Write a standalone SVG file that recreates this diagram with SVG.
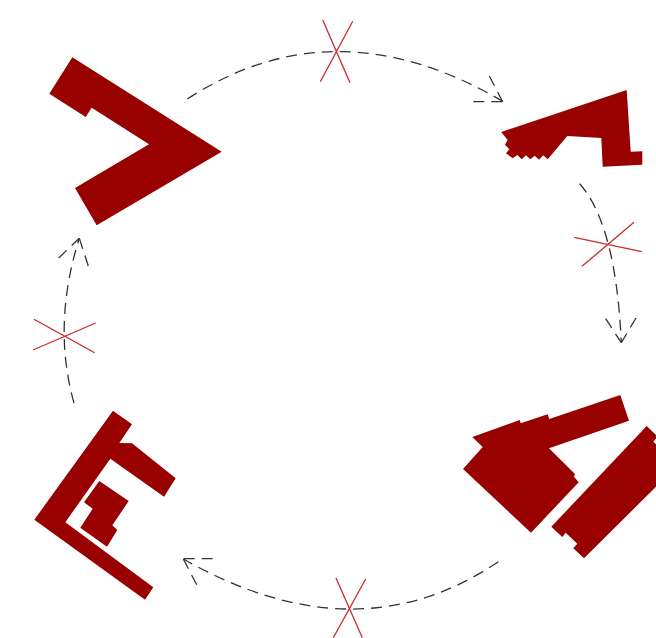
<svg xmlns="http://www.w3.org/2000/svg" width="656" height="638" viewBox="0 0 656 638">
<style>
.b{fill:#990000;stroke:none}
.c{fill:none;stroke:#333;stroke-width:1.3;stroke-dasharray:11 7}
.x{fill:none;stroke:#cc2a2a;stroke-width:1.3}
</style>
<rect width="656" height="638" fill="#fff"/>
<g id="connectors">
<path class="c" d="M187.3 99Q335 3 502.7 101.3"/>
<path class="c" d="M473.3 101.7H502.7M489.3 76L502.7 101.7"/>
<path class="c" d="M579.7 183.7Q616 225 621.3 342.7"/>
<path class="c" d="M605.7 318.7L621.3 342.7M636 318L621.3 342.7"/>
<path class="c" d="M498.3 561.7Q357 657.7 183.3 559"/>
<path class="c" d="M212.7 558.7H183.3M196.7 584.7L183.3 559"/>
<path class="c" d="M74 403Q52 325 79.3 238.3"/>
<path class="c" d="M58.7 258L79.3 238.3M88.3 266L79.3 238.3"/>
</g>
<g id="cross-top"><path class="x" d="M322.7 20L350 82.7M352.7 21.3L320.3 81.7"/></g>
<g id="cross-right"><path class="x" d="M574.3 237.3L641.7 251.7M634 222.3L582 266.3"/></g>
<g id="cross-bottom"><path class="x" d="M336 578L362.3 637.7M365.7 579L333.3 637.7"/></g>
<g id="cross-left"><path class="x" d="M34 319.3L94.7 352.7M95.7 323L33 350"/></g>
<g id="building-top-left"><path class="b" d="M72.3 57.3L221.7 151.7L96.7 225.3L75 188L149 144.3L91.7 107.7L85.7 117L49.3 93.7Z"/></g>
<g id="building-top-right"><path class="b" d="M626.7 90L630.7 151.7L642.3 151.3L642.3 164.7L602.7 166.7L601.3 138L567.3 136L547.7 159.3L543.3 155.3L539 159.7L534.7 155.7L530.3 159.3L525.9 155.3L521.7 159.3L517.3 155L512.7 158.3L506 153.3L509.3 149.3L505 144.7L507.7 140L501.3 132Z"/></g>
<g id="building-bottom-right">
<path class="b" d="M620.3 395L629 420.7L549 448.3L575 474L574 476.7L578.7 482.3L531 532.7L463 469L482.7 447L472.3 437L519.7 420L520.7 423.3L547.7 414.3L549.3 419Z"/>
<path class="b" d="M646.7 426L656 435V438.5L653.3 441.7L656 444.3V486.7L584 558.3L573.3 548.3L577.3 543.7L565.7 532.7L562.3 537L551.3 526.7Z"/>
</g>
<g id="building-bottom-left">
<path class="b" d="M113 410.7L132 424.3L119.3 443L132 443.3L175.7 478.3L164 496.7L110.3 458.7L65.3 522.3L153.3 587.3L145 599.7L34.3 519.7Z"/>
<path class="b" d="M99.3 481L128.7 501L112.3 525.3L117.3 530L107 546.7L80.3 527.7L92.7 508.7L84 502.3Z"/>
</g>
</svg>
